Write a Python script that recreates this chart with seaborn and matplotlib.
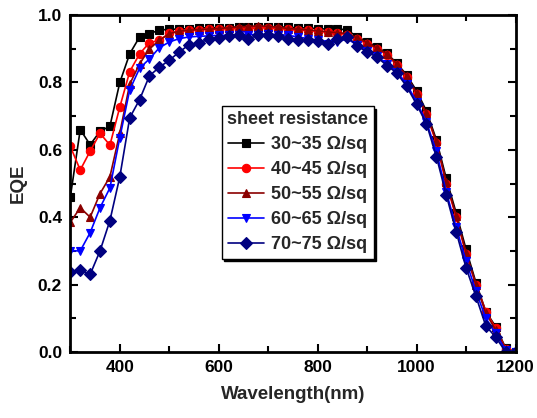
import numpy as np
import pandas as pd
import matplotlib
matplotlib.use("Agg")
import matplotlib.pyplot as plt
from matplotlib.ticker import MultipleLocator
import seaborn as sns

# wavelength grid (nm)
wavelength = list(range(300, 1201, 20))

eqe_30_35 = [0.46, 0.66, 0.615, 0.655, 0.67, 0.80, 0.885, 0.935, 0.945, 0.955,
             0.958, 0.958, 0.960, 0.962, 0.962, 0.963, 0.963, 0.965, 0.965, 0.966,
             0.966, 0.965, 0.964, 0.962, 0.962, 0.960, 0.958, 0.960, 0.955, 0.936,
             0.920, 0.906, 0.886, 0.857, 0.822, 0.775, 0.715, 0.630, 0.515, 0.413,
             0.305, 0.206, 0.120, 0.075, 0.012, 0.0]
eqe_40_45 = [0.61, 0.54, 0.596, 0.649, 0.614, 0.727, 0.832, 0.885, 0.918, 0.925,
             0.946, 0.952, 0.955, 0.957, 0.958, 0.958, 0.960, 0.960, 0.960, 0.962,
             0.962, 0.960, 0.958, 0.955, 0.955, 0.952, 0.950, 0.948, 0.940, 0.928,
             0.915, 0.900, 0.882, 0.852, 0.815, 0.765, 0.705, 0.620, 0.500, 0.400,
             0.290, 0.200, 0.120, 0.070, 0.010, 0.0]
eqe_50_55 = [0.385, 0.428, 0.400, 0.470, 0.520, 0.650, 0.795, 0.855, 0.900, 0.925,
             0.945, 0.952, 0.955, 0.957, 0.958, 0.960, 0.962, 0.965, 0.966, 0.968,
             0.966, 0.964, 0.960, 0.958, 0.956, 0.953, 0.950, 0.948, 0.945, 0.932,
             0.918, 0.902, 0.885, 0.855, 0.820, 0.768, 0.708, 0.625, 0.505, 0.405,
             0.295, 0.200, 0.115, 0.065, 0.008, 0.0]
eqe_60_65 = [0.300, 0.300, 0.354, 0.428, 0.487, 0.636, 0.778, 0.842, 0.870, 0.903,
             0.920, 0.930, 0.935, 0.937, 0.938, 0.940, 0.940, 0.942, 0.942, 0.942,
             0.943, 0.942, 0.940, 0.935, 0.930, 0.925, 0.915, 0.920, 0.930, 0.910,
             0.893, 0.878, 0.855, 0.832, 0.795, 0.742, 0.682, 0.595, 0.475, 0.370,
             0.270, 0.180, 0.100, 0.055, 0.005, 0.0]
eqe_70_75 = [0.238, 0.242, 0.230, 0.300, 0.390, 0.520, 0.695, 0.749, 0.820, 0.845,
             0.866, 0.890, 0.912, 0.918, 0.928, 0.933, 0.938, 0.940, 0.930, 0.940,
             0.940, 0.937, 0.930, 0.925, 0.925, 0.922, 0.915, 0.928, 0.936, 0.908,
             0.890, 0.875, 0.850, 0.828, 0.788, 0.735, 0.677, 0.580, 0.466, 0.357,
             0.250, 0.165, 0.077, 0.044, 0.0, 0.0]

labels = ["30~35 Ω/sq", "40~45 Ω/sq", "50~55 Ω/sq", "60~65 Ω/sq", "70~75 Ω/sq"]
colors = ["#000000", "#FF0000", "#8B0000", "#0000FF", "#000080"]
markers = ["s", "o", "^", "v", "D"]
series = [eqe_30_35, eqe_40_45, eqe_50_55, eqe_60_65, eqe_70_75]

sns.set_theme(style="ticks")
plt.rcParams["font.family"] = ["Liberation Sans", "DejaVu Sans"]
plt.rcParams["font.weight"] = "bold"

fig = plt.figure(figsize=(5.37, 4.18), dpi=100)
ax = fig.add_axes([0.131, 0.158, 0.829, 0.806])

for lab, col, mk, vals in zip(labels, colors, markers, series):
    df = pd.DataFrame({"Wavelength": wavelength, "EQE": vals})
    sns.lineplot(data=df, x="Wavelength", y="EQE", ax=ax, color=col, marker=mk,
                 markersize=6, markeredgecolor=col, markeredgewidth=0.8,
                 linewidth=1.2, label=lab)

ax.set_xlim(300, 1200)
ax.set_ylim(0, 1.0)
ax.xaxis.set_major_locator(MultipleLocator(200))
ax.xaxis.set_minor_locator(MultipleLocator(100))
ax.yaxis.set_major_locator(MultipleLocator(0.2))
ax.yaxis.set_minor_locator(MultipleLocator(0.1))
ax.yaxis.set_major_formatter(matplotlib.ticker.FormatStrFormatter("%.1f"))
ax.tick_params(which="both", direction="in", top=True, right=True, width=1.5,
               labelsize=12.5, colors="black", pad=6)
ax.tick_params(which="major", length=6)
ax.tick_params(which="minor", length=4)
for lbl in ax.get_xticklabels() + ax.get_yticklabels():
    lbl.set_fontweight("bold")
for sp in ax.spines.values():
    sp.set_linewidth(2)
    sp.set_color("black")

ax.set_xlabel("Wavelength(nm)", fontsize=13.5, fontweight="bold", labelpad=8)
ax.set_ylabel("EQE", fontsize=13.5, fontweight="bold", labelpad=8)

leg = ax.legend(title="sheet resistance", loc="upper left",
                bbox_to_anchor=(0.34, 0.73), fancybox=False,
                shadow={"color": "black", "alpha": 1},
                prop={"weight": "bold", "size": 13},
                title_fontproperties={"weight": "bold", "size": 13},
                handlelength=2.0, handletextpad=0.4, labelspacing=0.44,
                borderpad=0.3, borderaxespad=0, frameon=True)
leg.get_frame().set_edgecolor("black")
leg.get_frame().set_linewidth(1.0)
leg.get_frame().set_alpha(1)

fig.savefig("out.png", dpi=100)
